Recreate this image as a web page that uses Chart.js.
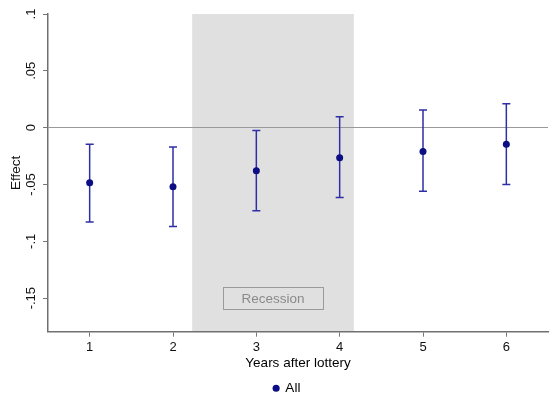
<!DOCTYPE html>
<html>
<head>
<meta charset="utf-8">
<script src="https://cdn.jsdelivr.net/npm/chart.js@4.4.1/dist/chart.umd.min.js"></script>
<style>
    html, body { margin: 0; padding: 0; background: #ffffff; }
    #wrap { width: 556px; height: 405px; }
</style>
</head>
<body>
<div id="wrap"><canvas id="effectChart"></canvas></div>
<script>
// Data
const years = [1, 2, 3, 4, 5, 6];
const effects = [-0.0485, -0.052, -0.038, -0.0265, -0.021, -0.0145];
const ciLower = [-0.083, -0.087, -0.073, -0.0615, -0.056, -0.050];
const ciUpper = [-0.0145, -0.017, -0.0025, 0.0095, 0.0155, 0.021];
const yTicks = [-0.15, -0.1, -0.05, 0, 0.05, 0.1];
const yTickLabels = ['-.15', '-.1', '-.05', '0', '.05', '.1'];
const recessionYears = [2.23, 4.17];

Chart.defaults.font.family = "'Liberation Sans', Arial, sans-serif";
Chart.defaults.color = '#111111';

// Points and error bar segments (gap between each bar)
const points = years.map((yr, i) => ({ x: yr, y: effects[i] }));
const bars = [];
years.forEach((yr, i) => {
    bars.push({ x: yr, y: ciLower[i] }, { x: yr, y: ciUpper[i] }, { x: yr, y: null });
});

// Shading, rotated y labels and the recession box
const stataExtras = {
    id: 'stataExtras',
    beforeDraw(chart) {
        const { ctx, chartArea, scales } = chart;
        const x0 = scales.x.getPixelForValue(recessionYears[0]);
        const x1 = scales.x.getPixelForValue(recessionYears[1]);
        ctx.save();
        ctx.fillStyle = '#e0e0e0';
        ctx.fillRect(x0, chartArea.top, x1 - x0, chartArea.bottom - chartArea.top);
        ctx.restore();
    },
    beforeDatasetsDraw(chart) {
        const { ctx, scales } = chart;
        const cx = scales.x.getPixelForValue(3.2);
        const cy = scales.y.getPixelForValue(-0.15);
        ctx.save();
        ctx.strokeStyle = '#9a9a9a';
        ctx.lineWidth = 1;
        ctx.strokeRect(Math.round(cx - 50) + 0.5, Math.round(cy - 11) + 0.5, 100, 22);
        ctx.fillStyle = '#8a8a8a';
        ctx.font = "13.5px 'Liberation Sans', Arial, sans-serif";
        ctx.textAlign = 'center';
        ctx.textBaseline = 'middle';
        ctx.fillText('Recession', cx, cy + 1);
        ctx.restore();
    },
    afterDraw(chart) {
        const { ctx, chartArea, scales } = chart;
        ctx.save();
        ctx.fillStyle = '#111111';
        ctx.textAlign = 'center';
        ctx.textBaseline = 'middle';
        ctx.font = "13px 'Liberation Sans', Arial, sans-serif";
        yTicks.forEach((v, i) => {
            ctx.save();
            ctx.translate(31, scales.y.getPixelForValue(v));
            ctx.rotate(-Math.PI / 2);
            ctx.fillText(yTickLabels[i], 0, 0);
            ctx.restore();
        });
        ctx.font = "13.5px 'Liberation Sans', Arial, sans-serif";
        ctx.translate(16, (chartArea.top + chartArea.bottom) / 2);
        ctx.rotate(-Math.PI / 2);
        ctx.fillText('Effect', 0, 0);
        ctx.restore();
    }
};

new Chart(document.getElementById('effectChart'), {
    type: 'scatter',
    data: {
        datasets: [{
            label: 'All',
            data: points,
            pointRadius: 3.5,
            pointHoverRadius: 3.5,
            backgroundColor: '#0c0c84',
            pointBorderWidth: 0
        }, {
            label: 'CI',
            data: bars,
            showLine: true,
            spanGaps: false,
            borderColor: '#2e2ea6',
            borderWidth: 1.5,
            pointStyle: 'line',
            pointRadius: 4,
            pointBorderColor: '#2e2ea6',
            pointBorderWidth: 1.5,
            pointHoverRadius: 4
        }]
    },
    options: {
        responsive: true,
        maintainAspectRatio: false,
        animation: false,
        layout: {
            padding: { left: 26, right: 8, top: 14, bottom: 0 }
        },
        plugins: {
            legend: {
                position: 'bottom',
                labels: {
                    usePointStyle: true,
                    boxWidth: 5,
                    boxHeight: 5,
                    padding: 9,
                    color: '#000000',
                    font: { size: 13.5 },
                    filter: item => item.datasetIndex === 0
                }
            },
            tooltip: { enabled: false }
        },
        scales: {
            x: {
                type: 'linear',
                min: 0.5,
                max: 6.5,
                afterBuildTicks: scale => {
                    scale.ticks = years.map(v => ({ value: v }));
                },
                afterFit: scale => {
                    scale.height = scale.height - 3;
                },
                ticks: {
                    font: { size: 13 },
                    color: '#111111',
                    padding: 3
                },
                grid: {
                    color: 'rgba(0,0,0,0)',
                    tickColor: '#777777',
                    tickLength: 5
                },
                border: { color: '#707070', width: 1.5 },
                title: {
                    display: true,
                    text: 'Years after lottery',
                    color: '#000000',
                    font: { size: 13.5 },
                    padding: { top: 0, bottom: 1 }
                }
            },
            y: {
                type: 'linear',
                min: -0.1795,
                max: 0.1,
                afterBuildTicks: scale => {
                    scale.ticks = yTicks.map(v => ({ value: v }));
                },
                afterFit: scale => {
                    scale.width = 22;
                },
                ticks: { display: false },
                grid: {
                    color: ctx => (ctx.tick && ctx.tick.value === 0 ? '#9a9a9a' : 'rgba(0,0,0,0)'),
                    tickColor: '#777777',
                    tickLength: 5
                },
                border: { color: '#707070', width: 1.5 }
            }
        }
    },
    plugins: [stataExtras]
});
</script>
</body>
</html>
